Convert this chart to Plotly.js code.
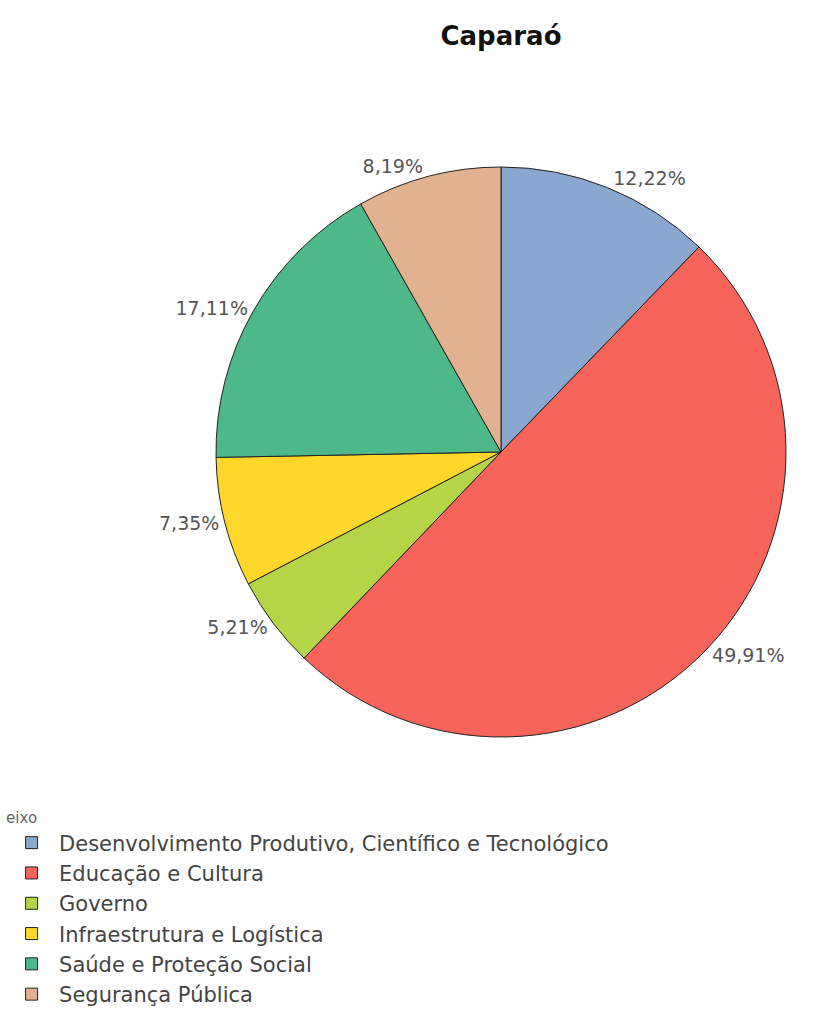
<!DOCTYPE html>
<html>
<head>
<meta charset="utf-8">
<script src="https://cdn.plot.ly/plotly-3.0.1.min.js"></script>
<style>html,body{margin:0;padding:0;background:#fff;}#chart{width:813px;height:1034px;}</style>
</head>
<body>
<div id="chart"></div>
<script>
const categories = [
  "Desenvolvimento Produtivo, Científico e Tecnológico",
  "Educação e Cultura",
  "Governo",
  "Infraestrutura e Logística",
  "Saúde e Proteção Social",
  "Segurança Pública"
];
const shares = [12.22, 49.91, 5.21, 7.35, 17.11, 8.19];
const colors = ["#8AA8CF", "#F8645A", "#B5D547", "#FFD62A", "#4DB88A", "#E2B290"];

const W = 813, H = 1034;
const trace = {
  type: "pie",
  labels: categories,
  values: shares,
  sort: false,
  direction: "clockwise",
  rotation: 0,
  marker: { colors: colors, line: { color: "#222", width: 1 } },
  texttemplate: "%{percent:.2%}",
  textposition: "outside",
  outsidetextfont: { family: "DejaVu Sans, sans-serif", size: 19, color: "#555" },
  hoverinfo: "label+percent",
  domain: { x: [216 / W, 786 / W], y: [1 - 737 / H, 1 - 167 / H] },
  automargin: false
};

const layout = {
  width: W, height: H,
  margin: { l: 0, r: 0, t: 0, b: 0 },
  separators: ",.",
  paper_bgcolor: "#fff",
  font: { family: "DejaVu Sans, sans-serif", color: "#444" },
  title: {
    text: "<b>Caparaó</b>",
    x: 501 / W, xanchor: "center",
    y: 1 - 36 / H, yanchor: "middle",
    font: { family: "DejaVu Sans, sans-serif", size: 26, color: "#111" }
  },
  showlegend: true,
  legend: {
    x: 0.005, xanchor: "left",
    y: 1 - 803 / H, yanchor: "top",
    title: { text: "eixo", font: { size: 15, color: "#666" } },
    font: { size: 21, color: "#444" },
    tracegroupgap: 0,
    traceorder: "normal",
    itemwidth: 45
  }
};

Plotly.newPlot("chart", [trace], layout, { displayModeBar: false });
</script>
</body>
</html>
